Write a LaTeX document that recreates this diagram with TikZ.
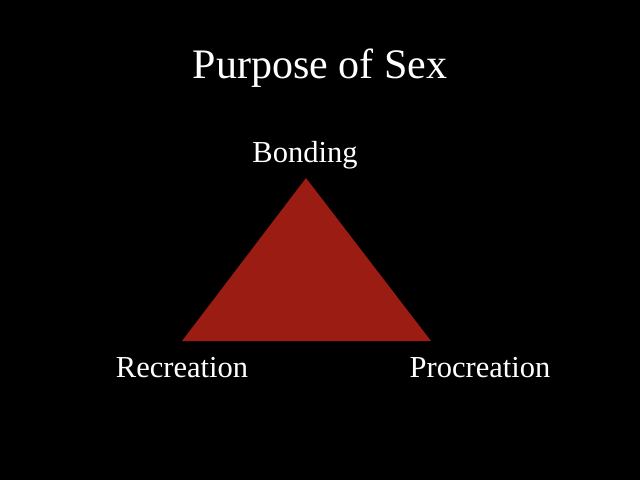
\documentclass[tikz,border=0pt]{standalone}
\usepackage{fontspec}
\setmainfont{Liberation Serif}
\begin{document}
\begin{tikzpicture}[x=1pt,y=-1pt,
  lbl/.style={text=white,font=\fontsize{30.5}{34}\selectfont,inner sep=0pt}]
\fill[black] (0,0) rectangle (640,480);
\useasboundingbox (0,0) rectangle (640,480);
\node[lbl,font=\fontsize{42}{48}\selectfont] (title) at (320,68) {Purpose of Sex};
\coordinate (top) at (306,178);
\coordinate (bl) at (182,341);
\coordinate (br) at (431,341);
\fill[fill={rgb,255:red,155;green,28;blue,18}] (top) -- (bl) -- (br) -- cycle;
\node[lbl] (bond) at (305,155) {Bonding};
\node[lbl] (rec) at (182,368) {Recreation};
\node[lbl] (pro) at (480,368) {Procreation};
\end{tikzpicture}
\end{document}
